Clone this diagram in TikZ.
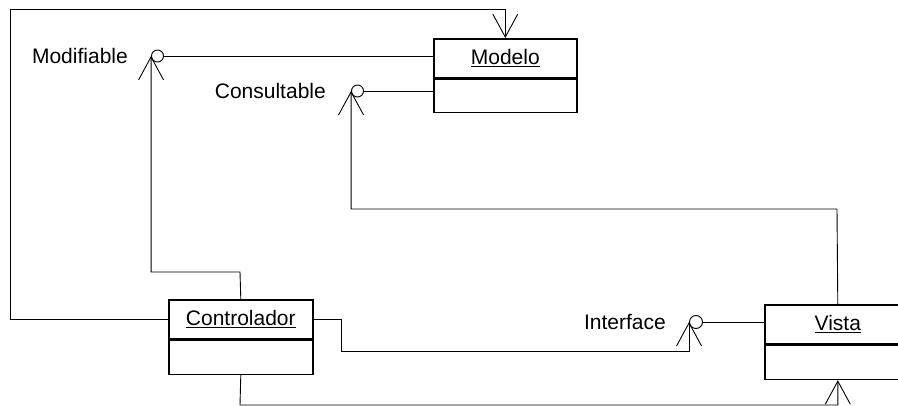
\documentclass[tikz,border=0pt]{standalone}
\usepackage{fontspec}
\setmainfont{Liberation Sans}
\usetikzlibrary{arrows.meta}
\begin{document}
\begin{tikzpicture}[x=1pt,y=-1pt,
  conn/.style={line width=0.9pt, line join=miter},
  barbend/.style={-{Straight Barb[length=23pt,width=25pt,line width=0.9pt]}},
  classtop/.style={draw, line width=1.6pt, minimum width=#1, minimum height=39pt, inner sep=0pt, anchor=north west, font=\fontsize{21}{25}\selectfont},
  classbot/.style={draw, line width=1.6pt, minimum width=#1, minimum height=34pt, inner sep=0pt, anchor=north},
  lolli/.style={draw, circle, line width=0.9pt, minimum size=12pt, inner sep=0pt},
  lbl/.style={inner sep=0pt, font=\fontsize{21}{25}\selectfont}
]
\useasboundingbox (0,0) rectangle (898,405);

% classes
\node[classtop=143pt] (modelo) at (433,38) {\underline{Modelo}};
\node[classbot=143pt, minimum height=33pt] (modelob) at (modelo.south) {};
\node[classtop=144pt] (ctrl) at (168,299) {\underline{Controlador}};
\node[classbot=144pt] (ctrlb) at (ctrl.south) {};
\node[classtop=146pt] (vista) at (764,304) {\underline{Vista}};
\node[classbot=146pt] (vistab) at (vista.south) {};

% interfaces
\node[lolli] (modc) at (157.5,56) {};
\node[lolli] (conc) at (357.5,91) {};
\node[lolli, minimum size=13pt] (intc) at (696,322) {};

\node[lbl, anchor=base east] (lmod) at (128,63) {Modifiable};
\node[lbl, anchor=base east] (lcon) at (326,98) {Consultable};
\node[lbl, anchor=base east] (lint) at (666,329) {Interface};

% coordinates for routing
\coordinate (tl) at (10,9);
\coordinate (mbend) at (240,272);
\coordinate (cbend) at (837,209);
\coordinate (ibend) at (341,351);
\coordinate (bbend) at (240,405);

% lollipop stems
\draw[conn] (modc.east) -- (modc -| modelo.west);
\draw[conn] (conc.east) -- (conc -| modelob.west);
\draw[conn] (intc.east) -- (intc -| vista.west);

% dependencies
\draw[conn, barbend] (ctrl.west) -| (tl) -| (modelo.north);
\draw[conn, barbend] (ctrl.north) -- (mbend) -| (modc.west);
\draw[conn, barbend] (vista.north) -- (cbend) -| (conc.west);
\draw[conn, barbend] (ctrl.east) -| (ibend) -| (intc.west);
\draw[conn, barbend] (ctrlb.south) -- (bbend) -| (vistab.south);
\end{tikzpicture}
\end{document}
